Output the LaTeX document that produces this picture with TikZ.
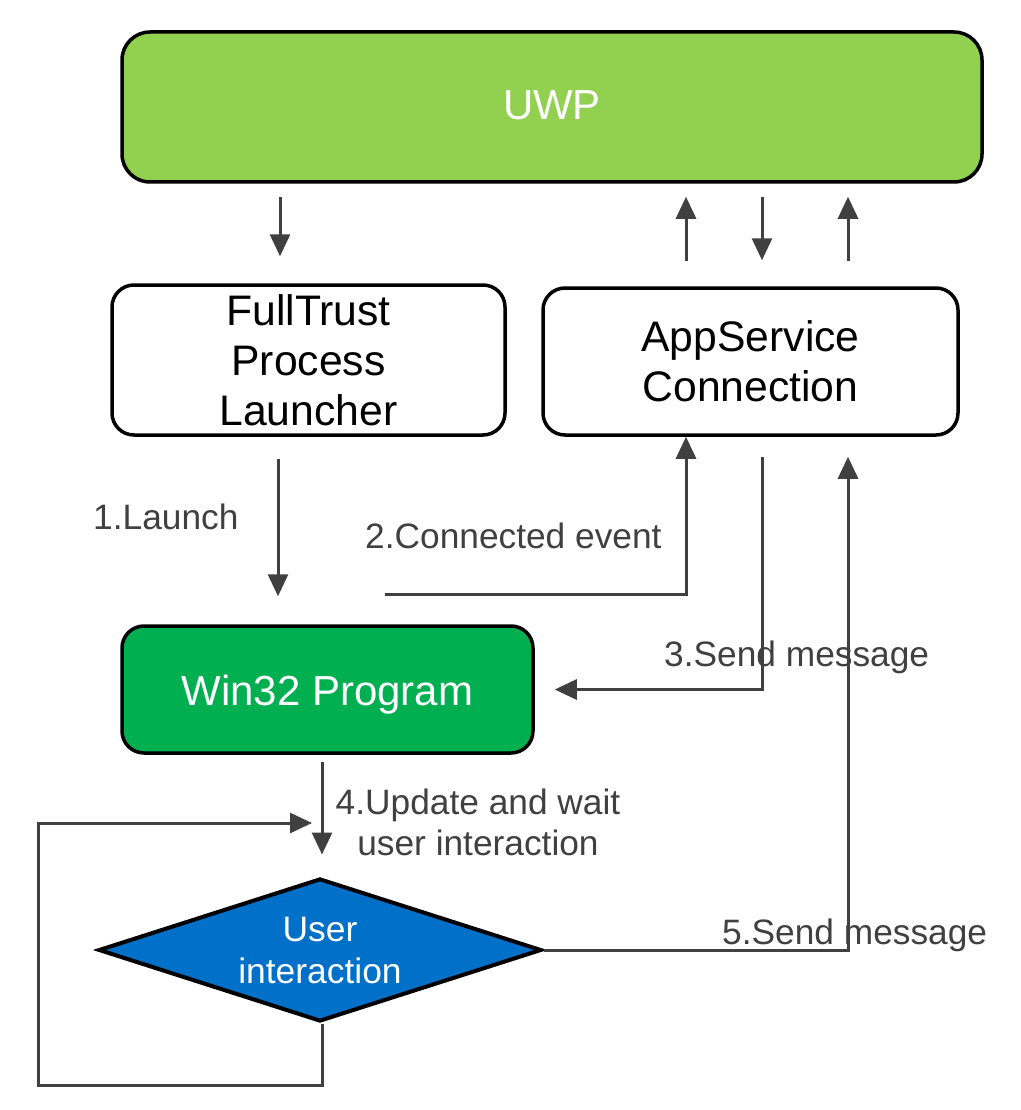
\documentclass[tikz,border=0pt]{standalone}
\usepackage{fontspec}
\setmainfont{Liberation Sans}
\usetikzlibrary{shapes.geometric,arrows.meta}
\definecolor{uwpgreen}{HTML}{92D050}
\definecolor{wingreen}{HTML}{00B050}
\definecolor{diablue}{HTML}{0070C8}
\definecolor{linegray}{HTML}{404040}
\begin{document}
\begin{tikzpicture}[x=1pt,y=-1pt,
  box/.style={draw=black, line width=3.5pt, rounded corners=22pt, align=center, inner sep=0pt, font=\fontsize{42.7}{50}\selectfont},
  arr/.style={draw=linegray, line width=3pt, -{Triangle[length=22pt,width=20pt]}},
  lbl/.style={text=linegray, inner sep=0pt, font=\fontsize{35.3}{41}\selectfont},
]
\useasboundingbox (0,0) rectangle (1020,1110);

% boxes
\node[box, fill=uwpgreen, text=white, minimum width=860pt, minimum height=150pt, rounded corners=28pt, font=\fontsize{42}{48}\selectfont] (uwp) at (552,107) {\raisebox{2pt}[\height][\depth]{UWP}};
\node[box, fill=white, minimum width=393pt, minimum height=150pt] (ft) at (308.5,360) {FullTrust\\Process\\Launcher};
\node[box, fill=white, minimum width=415pt, minimum height=147pt] (as) at (750.5,361.5) {AppService\\Connection};
\node[box, fill=wingreen, text=white, minimum width=411pt, minimum height=127pt, font=\fontsize{42}{50}\selectfont] (win) at (327.5,689.5) {\raisebox{-5pt}[\height][\depth]{Win32 Program}};
\node[diamond, draw=black, line width=4pt, fill=diablue, text=white, aspect=3.1, minimum width=443pt, minimum height=143pt, inner sep=0pt, align=center, font=\fontsize{35.4}{42}\selectfont] (dia) at (320,950) {User\\interaction};

% helper x positions
\coordinate (xa) at (280,0);
\coordinate (xb) at (686,0);
\coordinate (xc) at (762,0);
\coordinate (xd) at (848,0);
\coordinate (xl) at (278,0);
\coordinate (xe) at (322,0);
\coordinate (cstart) at (385,594);
\coordinate (lb) at (322,1085);
\coordinate (lt) at (38,823);
\coordinate (lh) at (312,823);

% top arrows
\draw[arr, shorten <=13pt, shorten >=27pt] (uwp.south -| xa) -- (ft.north -| xa);
\draw[arr, shorten <=25pt, shorten >=13pt] (as.north -| xb) -- (uwp.south -| xb);
\draw[arr, shorten <=13pt, shorten >=26pt] (uwp.south -| xc) -- (as.north -| xc);
\draw[arr, shorten <=25pt, shorten >=13pt] (as.north -| xd) -- (uwp.south -| xd);

% 1 launch
\draw[arr, shorten <=22pt, shorten >=28pt] (ft.south -| xl) -- (win.north -| xl);
% 2 connected event
\draw[arr] (cstart) -| (as.south -| xb);
% 3 send message
\draw[arr, shorten <=20pt, shorten >=20pt] (as.south -| xc) |- (win.east);
% 5 send message
\draw[arr, shorten >=20pt] (dia.east) -| (as.south -| xd);
% 4 update
\draw[arr, shorten <=7pt, shorten >=22pt] (win.south -| xe) -- (dia.north -| xe);
% loop
\draw[arr] (dia.south -| xe) -- (lb) -| (lt) -- (lh);

% labels
\node[lbl, anchor=base west] (l1) at (93,529) {1.Launch};
\node[lbl, anchor=base west] (l2) at (365,548) {2.Connected event};
\node[lbl, anchor=base west] (l3) at (664,666) {3.Send message};
\node[lbl, anchor=north, align=center] (l4) at (478,789) {4.Update and wait\\user interaction};
\node[lbl, anchor=base west] (l5) at (722,944) {5.Send message};
\end{tikzpicture}
\end{document}
